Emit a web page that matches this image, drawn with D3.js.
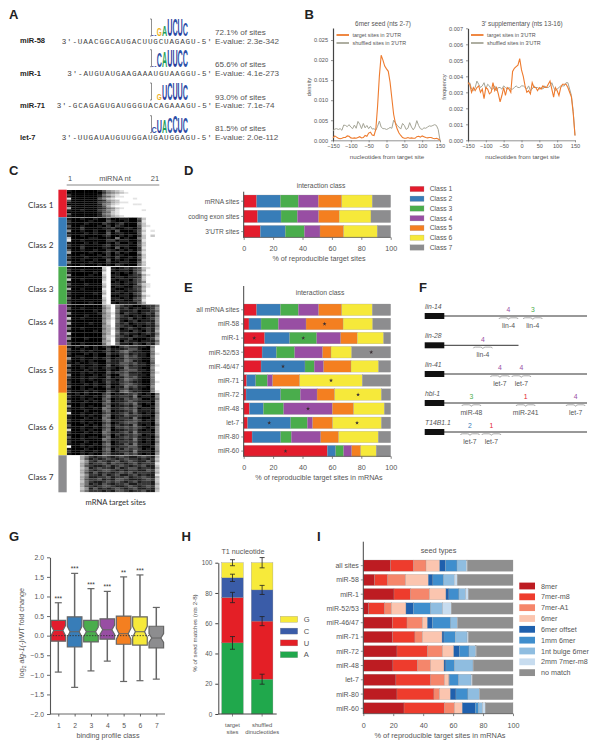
<!DOCTYPE html>
<html>
<head>
<meta charset="utf-8">
<script src="https://cdnjs.cloudflare.com/ajax/libs/d3/7.8.5/d3.min.js"></script>
<style>
  html, body { margin: 0; padding: 0; background: #fff; }
  svg { display: block; }
  text { font-family: "Liberation Sans", Arial, sans-serif; fill: #555; }
  .axis text { fill: #555; }
</style>
</head>
<body>
<div id="fig"></div>
<script>
// panel A
const aNames = ["miR-58", "miR-1", "miR-71", "let-7"];
const aSeqs = [
  "3\u2032-UAACGGCAUGACUUGCUAGAGU-5\u2032",
  "3\u2032-AUGUAUGAAGAAAUGUAAGGU-5\u2032",
  "3\u2032-GCAGAGUGAUGGGUACAGAAAGU-5\u2032",
  "3\u2032-UUGAUAUGUUGGAUGAUGGAGU-5\u2032"
];
const aShare = ["72.1% of sites", "65.6% of sites", "93.0% of sites", "81.5% of sites"];
const aEval = ["E-value: 2.3e-342", "E-value: 4.1e-273", "E-value: 7.1e-74", "E-value: 2.0e-112"];
const aLetters = ["UGAUCUC", "UCAUUCC", "GUCUUC", "CUACCUC"];
const aHeights = [
  [.08, .45, .62, 1, 1, 1, .8],
  [.1, .88, .95, 1, 1, 1, 1],
  [.4, .9, 1, 1, 1, .95],
  [.35, .75, .8, .95, 1, .95, .95]
];

// panel B, one value every 5 nt from -150 to 150
const bTicksY1 = [0, .005, .01, .015, .02, .025];
const bTicksY2 = [0, .001, .002, .003, .004, .005, .006, .007];
const seedTarget = [
  .0006,.0011,.0008,.0005,.0004,.0005,.0007,.0007,.0011,.0010,
  .0006,.0005,.0006,.0005,.0007,.0009,.0006,.0007,.0012,.0010,
  .0018,.0020,.0013,.0012,.0027,.0085,.0160,.0212,.0200,.0185,
  .0178,.0172,.0145,.0105,.0065,.0042,.0028,.0018,.0012,.0007,
  .0005,.0005,.0007,.0005,.0006,.0005,.0005,.0009,.0010,.0008,
  .0011,.0009,.0007,.0006,.0007,.0007,.0005,.0004,.0005,.0003,
  .0000];
const seedShuffled = [
  .0024,.0028,.0029,.0027,.0029,.0025,.0038,.0037,.0034,.0039,
  .0033,.0029,.0038,.0030,.0047,.0040,.0029,.0042,.0031,.0037,
  .0029,.0035,.0028,.0029,.0025,.0035,.0048,.0033,.0029,.0029,
  .0027,.0029,.0032,.0030,.0050,.0044,.0037,.0033,.0028,.0042,
  .0037,.0027,.0030,.0044,.0033,.0026,.0033,.0049,.0037,.0029,
  .0027,.0031,.0030,.0033,.0036,.0035,.0037,.0039,.0037,.0027,
  .0000];
const suppTarget = [
  .0036,.0035,.0030,.0033,.0031,.0033,.0034,.0030,.0032,.0026,
  .0033,.0032,.0029,.0030,.0036,.0031,.0033,.0029,.0024,.0028,
  .0033,.0028,.0033,.0032,.0030,.0043,.0045,.0046,.0047,.0051,
  .0044,.0040,.0034,.0030,.0031,.0029,.0036,.0033,.0033,.0031,
  .0033,.0032,.0034,.0033,.0033,.0035,.0037,.0032,.0027,.0033,
  .0031,.0028,.0033,.0035,.0035,.0035,.0033,.0030,.0027,.0017,
  .0003];
const suppShuffled = [
  .0035,.0036,.0032,.0031,.0033,.0037,.0035,.0033,.0034,.0036,
  .0032,.0035,.0034,.0032,.0032,.0034,.0031,.0033,.0033,.0032,
  .0034,.0033,.0032,.0033,.0032,.0032,.0033,.0034,.0033,.0033,
  .0034,.0034,.0033,.0032,.0034,.0031,.0032,.0034,.0033,.0033,
  .0032,.0033,.0032,.0034,.0033,.0033,.0034,.0036,.0033,.0031,
  .0032,.0033,.0034,.0034,.0034,.0036,.0036,.0032,.0028,.0018,
  .0003];

// panel C, one string per row of sites, a digit per nucleotide (0 black, 9 white)
const class1Rows = [
  "100000013567899999999","000000002456789999999","200000014678999999999",
  "100000013468899999999","800000035789999899999","300000012567999999999",
  "100000023467889999999","000000014578999889999","200000013689999999999",
  "600000012457899999999","100100023568999998999","000000013478999999999",
  "300000014578999999999","100000013467899999999"];
const class2Rows = [
  "100100100200110037999","200001000310010028999","100010002101200047999",
  "300100010202100037899","100200001120011028999","500100100203000137989",
  "100010100301100038999","200100001200101027979","700001100104010047999",
  "800100000220110028999","100010100102001037999","200100001201110037999",
  "100200001103010028999","300100100210101027999","600001001202010048999",
  "100100010201100027999","200010001102001037999","100100100301010028999",
  "400001000200110037999","100100010102100047999"];
const class3Rows = [
  "100000007910121237899","200100006910110236999","100000108901010248999",
  "500001007911001226899","100000006901101127999","700100007910110237999",
  "100000008901011235999","300010007911010147899","100000006901100226899",
  "600100008910011237999","100000007901101126999","200000106911010238999",
  "100000008900110126899","300100007911010237999","100000006901100228999",
  "200001007910111136999"];
const class4Rows = [
  "100000005794211001224","300100004693120110125","100000105794111201124",
  "500000014683021101215","100010005694210110114","700100004683112010125",
  "200000005794101201115","600001004793120111215","100000005693211010114",
  "400100004683012101215","100000105694110210216","700000004694121101214",
  "200000005783210211015","500010004793112000126","100000005693021101114",
  "300100004794110210215"];
const class5Rows = [
  "101010101200232211049","300100100311123310059","100101001201342110049",
  "200010100311231211048","101100100200242311059","500100101201132210049",
  "200101000311243110049","101001100211332311039","400100100301231211048",
  "100101101210142210059","300010100200233311049","100101000312231110048",
  "500100101200342211059","200101100301132310049","100101001210243210049",
  "200100101311232110048","100010100200233210049","300100101301142311059",
  "100101000211231210049","200010100310342110048"];
const class6Rows = [
  "101010002301122310104","200100102411221401105","100101003301132320014",
  "300010102401123211105","100100003311232410105","500101002401121320015",
  "100100104311232301105","200010003401122411115","800100102311231310104",
  "100101003401132221105","100010104301221410015","200100003411122320105",
  "100101002301233311105","300010103412121410104","100100102302232321015",
  "700101003401122310105","200010104311231411105","100100003302122320115",
  "300101102401232311104","100100004311121410105","200010002301222310104",
  "100100103401131411105","900101002311223310015","100010003402132320105",
  "200100102301221411104","100101003311132310105"];
const class7Rows = [
  "999642123212321123216","999631212321232212127","999752132123123211316",
  "999641223132212312228","999632112312321223117","999751232213123312216",
  "999642123321212211327","999631312212323122216","999752213123112312118",
  "999641122312231223216","999632231213321112327","999742112323212312217",
  "999641213212231122216","999632123321123212327","999751312123212311216",
  "999642221213321223117"];

// panel D and E, shares of classes 1-7 in %
const classNames = ["Class 1", "Class 2", "Class 3", "Class 4", "Class 5", "Class 6", "Class 7"];
const dCats = ["mRNA sites", "coding exon sites", "3\u2032UTR sites"];
const dMrna = [8.8, 16.2, 12.2, 13.6, 15.9, 20.8, 12.5];
const dCoding = [9.5, 15.9, 11.1, 14.5, 14, 21.6, 13.4];
const dUtr = [11.3, 17, 13, 10.6, 16.1, 22.9, 9.1];

const eCats = ["all mRNA sites", "miR-58", "miR-1", "miR-52/53", "miR-46/47", "miR-71", "miR-72", "miR-48", "let-7", "miR-80", "miR-60"];
const eAll = [8.8, 16.2, 12.2, 13.8, 15.7, 20.8, 12.5];
const e58 = [3.6, 8.2, 11.8, 18.8, 25.2, 20.2, 12.2];
const e1 = [14.3, 17, 18.4, 16.3, 11.3, 17.9, 4.8];
const e52 = [12.5, 9.7, 12.5, 19, 5.7, 14.1, 26.5];
const e46 = [11.8, 29.9, 6.3, 6.4, 18.6, 18.8, 8.2];
const e71 = [2, 6.2, 7.9, 3.6, 18.4, 42.6, 19.3];
const e72 = [1.6, 23.6, 13.3, 11.4, 12, 31.8, 6.3];
const e48 = [3.9, 9.5, 13.8, 33.1, 14.5, 20.9, 4.3];
const eLet7 = [2.7, 29.3, 11.3, 3.6, 13.6, 33.2, 6.3];
const e80 = [5.7, 19.5, 7.2, 20, 12.2, 27, 8.4];
const e60 = [56.9, 5.7, 5.4, 5.5, 6.1, 10.6, 9.8];
// [row, class index] of the enriched segments
const eStars = [[1, 4], [2, 0], [2, 2], [3, 6], [4, 1], [5, 5], [6, 5], [7, 3], [8, 1], [8, 5], [10, 0]];

// panel F, site positions in % of the 3'UTR line
const fGenes = ["lin-14", "lin-28", "lin-41", "hbl-1", "T14B1.1"];
const fLengths = [100, 52, 100, 100, 100];
const fPos = [[45, 62], [27], [39, 54], [19, 57, 92], [18, 33]];
const fClass = [[4, 3], [4], [4, 4], [3, 1, 4], [2, 1]];
const fSites = [["lin-4", "lin-4"], ["lin-4"], ["let-7", "let-7"], ["miR-48", "miR-241", "let-7"], ["let-7", "let-7"]];

// panel G
const gCats = ["1", "2", "3", "4", "5", "6", "7"];
const gHi = [.84, 1.59, 1.2, 1.13, 1.5, 1.55, .72];
const gQ3 = [.39, .48, .39, .43, .5, .48, .24];
const gMed = [.13, .1, .1, .15, .05, .1, -.06];
const gQ1 = [-.14, -.29, -.16, -.09, -.22, -.24, -.31];
const gLo = [-.93, -1.32, -.9, -.65, -1.17, -1.15, -1.11];
const gNotch = [.13, .14, .12, .12, .14, .14, .11];
const gStars = ["***", "***", "***", "***", "**", "***", ""];

// panel H
const hCats = [["target", "sites"], ["shuffled", "dinucleotides"]];
const hNt = ["A", "U", "C", "G"];
const hTarget = [47, 30, 13, 10];
const hShuffled = [23, 38.4, 20.6, 18];
const hErrTarget = [4.2, 3.4, 2.4, 2];
const hErrShuffled = [3.3, 3, 3, 3.4];

// panel I
const iCats = ["all sites", "miR-58", "miR-1", "miR-52/53", "miR-46/47", "miR-71", "miR-72", "miR-48", "let-7", "miR-80", "miR-60"];
const iTypes = ["8mer", "7mer-m8", "7mer-A1", "6mer", "6mer offset", "1mm 6mer", "1nt bulge 6mer", "2mm 7mer-m8", "no match"];
const iAll = [18.3, 15.3, 8.3, 9.1, 3.8, 7.8, 6.2, .7, 30.5];
const i58 = [7.6, 8.7, 12, 15.1, 3.1, 7.2, 7.1, 2, 37.2];
const i1 = [20.5, 11.1, 12.7, 10.9, 2, 6.7, 4.5, 1.8, 29.8];
const i52 = [3.6, 10.7, 4.6, 9.6, 4.9, 11.6, 8, 5.8, 41.2];
const i46 = [19.4, 9.8, 10.4, 3.2, 3.3, 12.3, 4.4, .2, 37];
const i71 = [19.6, 14.9, 5.1, 13, 1.3, 7.6, 7.8, .9, 29.8];
const i72 = [22.5, 20.5, 10, 7.4, 3.7, 6.5, 4.5, .4, 24.5];
const i48 = [19.8, 16.5, 8.7, 8.9, 1.3, 5.8, 12.3, .2, 26.5];
const iLet7 = [21.8, 23.2, 9.3, 2.9, .5, 6, 8.3, .8, 27.2];
const i80 = [22.5, 24.7, 3.8, 7.1, 3.8, 8, 7.6, .2, 22.3];
const i60 = [27.2, 27.1, 6.7, 5.1, 8.7, 2.2, 2.7, 1.8, 18.5];

const classColors = ["#e31c2d", "#387db8", "#4aad4c", "#984ea3", "#f47f20", "#f6e93a", "#8d8d8f"];
const seedColors = ["#bd1c22", "#ee3c2d", "#f5866b", "#fbc5af", "#1f60ad", "#3f8ecd", "#8fbde0", "#c7dcef", "#8f8f8f"];
const ntColors = { A: "#20a84c", U: "#e41f26", C: "#3a5ca8", G: "#f7ea3a" };
const logoColors = { A: "#1f9e5a", U: "#2c3c9c", C: "#2c4fa8", G: "#efb01f" };
const boxDark = "#666";

const svg = d3.select("#fig").append("svg").attr("width", 602).attr("height", 749);

function label(x, y, str, size, anchor) {
  return svg.append("text").attr("x", x).attr("y", y).attr("font-size", size)
    .attr("text-anchor", anchor || "middle").attr("dy", "0.35em").text(str);
}

function styleAxis(g, size, lineW, col) {
  g.attr("class", "axis");
  g.selectAll("text").attr("font-size", size);
  g.selectAll("path,line").attr("stroke", col || "#555").attr("stroke-width", lineW || 1);
}

// panel letters
[["A", 9, 18.5], ["B", 304.5, 18.5], ["C", 9, 175], ["D", 184, 175], ["E", 184, 292],
 ["F", 419, 292], ["G", 9, 541], ["H", 181.5, 541], ["I", 317, 541]].forEach(d => {
  svg.append("text").attr("x", d[1]).attr("y", d[2]).attr("font-size", 13)
    .attr("font-weight", "bold").style("fill", "#222").text(d[0]);
});

// A
const aY = [40.7, 73, 105.3, 137];
const aPctY = [31.7, 63.7, 97, 128.3];
const aLogoBase = [36, 66.7, 100, 132.7];
const aSeqX = [61.7, 67.3, 56.7, 61.7];
const logoTop = 17;
aNames.forEach((name, i) => {
  label(20, aY[i], name, 7.5, "start").attr("font-weight", "bold").style("fill", "#222");
  svg.append("text").attr("x", aSeqX[i]).attr("y", aY[i] + .5).attr("dy", "0.35em")
    .attr("font-size", 7.6).attr("letter-spacing", 0.83)
    .style("font-family", "'Liberation Mono', monospace").style("fill", "#444").text(aSeqs[i]);
  label(215, aPctY[i], aShare[i], 8.1, "start");
  label(215, aY[i], aEval[i], 8.1, "start");

  // sequence logo
  const letters = aLetters[i].split("");
  const lx = d3.scaleBand().domain(d3.range(letters.length)).range([188 - letters.length * 5.2, 188]);
  const ly = d3.scaleLinear().domain([0, 1]).range([aLogoBase[i], aLogoBase[i] - logoTop]);
  svg.append("path").attr("fill", "none").attr("stroke", "#444").attr("stroke-width", .6)
    .attr("d", `M150,${ly(1)}h1.5V${ly(0)}h-1.5`);
  svg.append("g").selectAll("text").data(letters).join("text")
    .attr("font-size", 10).attr("font-weight", "bold")
    .style("fill", d => logoColors[d]).text(d => d)
    .attr("transform", function(d, j) {
      const w = this.getBBox().width;
      const sy = (ly(0) - ly(aHeights[i][j])) / 7.2;
      return `translate(${lx(j)},${ly(0)}) scale(${lx.bandwidth() / w},${sy})`;
    });
});

// B
function densityPanel(x0, x1, top, yMax, yTicks, target, shuffled, title, yName, yNameX, titleX, xNameX, legendX) {
  const pos = d3.range(-150, 151, 5);
  const x = d3.scaleLinear().domain([-150, 150]).range([x0, x1]);
  const y = d3.scaleLinear().domain([0, yMax]).range([140.3, top]);
  const line = d3.line().x((d, i) => x(pos[i])).y(d => y(d));
  const gx = svg.append("g").attr("transform", "translate(0,140.3)")
    .call(d3.axisBottom(x).tickValues(d3.range(-150, 151, 50)).tickSize(2).tickSizeOuter(0));
  styleAxis(gx, 5.6, .8, "#777");
  gx.selectAll("text").attr("dy", "0.55em");
  const gy = svg.append("g").attr("transform", `translate(${x0},0)`)
    .call(d3.axisLeft(y).tickValues(yTicks).tickFormat(d3.format(".3f")).tickSize(2).tickSizeOuter(0));
  styleAxis(gy, 5.6, .8, "#777");
  gy.select(".domain").attr("stroke", "#444").attr("stroke-width", 1.2);
  svg.append("path").datum(shuffled).attr("fill", "none").attr("stroke", "#a5a597").attr("stroke-width", 1).attr("d", line);
  svg.append("path").datum(target).attr("fill", "none").attr("stroke", "#ee7b2e").attr("stroke-width", 1.1).attr("d", line);
  label(titleX, 24, title, 6.4);
  label(xNameX, 156.7, "nucleotides from target site", 6.2);
  label(yNameX, 87, yName, 5.8).attr("transform", `rotate(-90,${yNameX},87)`);
  [["target sites in 3\u2032UTR", "#ee7b2e", 35], ["shuffled sites in 3\u2032UTR", "#a5a597", 43]].forEach(d => {
    svg.append("line").attr("x1", legendX).attr("x2", legendX + 12.5).attr("y1", d[2]).attr("y2", d[2])
      .attr("stroke", d[1]).attr("stroke-width", 1.8);
    label(legendX + 16, d[2], d[0], 5.4, "start");
  });
}
densityPanel(333, 440, 28, .028, bTicksY1, seedTarget, seedShuffled, "6mer seed (nts 2-7)", "density", 309, 383, 387, 336.5);
densityPanel(468, 575, 28.3, .007, bTicksY2, suppTarget, suppShuffled, "3\u2032 supplementary (nts 13-16)", "frequency", 444, 522, 522.5, 471);

// C
const cBlocks = [class1Rows, class2Rows, class3Rows, class4Rows, class5Rows, class6Rows, class7Rows];
const cTops = [190, 217.6, 267, 304.6, 345.6, 393, 455.6];
const cBottoms = [217, 266, 304, 345, 392.6, 455, 492];
const cLabelY = [204.7, 244.7, 288.7, 322.3, 370.3, 427, 477];
const cGrey = d3.scaleLinear().domain([0, 9]).range(["#000", "#fff"]);
const cx = d3.scaleBand().domain(d3.range(21)).range([66.7, 159.3]);
const defs = svg.append("defs");
defs.append("filter").attr("id", "soft").append("feGaussianBlur").attr("stdDeviation", "0.5 0.4");
const heat = svg.append("g").attr("filter", "url(#soft)");
cBlocks.forEach((rows, c) => {
  const cy = d3.scaleBand().domain(d3.range(rows.length)).range([cTops[c], cBottoms[c]]);
  rows.forEach((row, r) => {
    heat.append("g").selectAll("rect").data(row.split("").map(Number)).join("rect")
      .attr("x", (d, j) => cx(j)).attr("y", cy(r))
      .attr("width", cx.bandwidth() + .2).attr("height", cy.bandwidth() + .1)
      .attr("fill", d => cGrey(d));
  });
  svg.append("rect").attr("x", 58.4).attr("y", cTops[c] - .3).attr("width", 8.3)
    .attr("height", cBottoms[c] - cTops[c] + .6).attr("fill", classColors[c]);
  label(28, cLabelY[c], classNames[c], 8.2, "start").style("font-family", "Lato, sans-serif").style("fill", "#333");
});
label(70, 178, "1", 7.5);
label(115, 178, "miRNA nt", 7.5);
label(155, 178, "21", 7.5);
svg.append("line").attr("x1", 66.7).attr("x2", 159.3).attr("y1", 185).attr("y2", 185).attr("stroke", "#555").attr("stroke-width", .7);
label(115.7, 502.7, "mRNA target sites", 7.6).style("font-family", "Lato, sans-serif").style("fill", "#333");

// stacked horizontal bars used by D, E, I
function hBars(cats, rows, colors, x0, x1, yTop, step, barH, axisTop, axisY, tickY, catSize) {
  const x = d3.scaleLinear().domain([0, 100]).range([x0, x1]);
  const y = d3.scaleBand().domain(cats).range([yTop, yTop + step * cats.length]);
  const g = svg.append("g");
  rows.forEach((row, r) => {
    const ends = d3.cumsum(row);
    g.append("g").selectAll("rect").data(row).join("rect")
      .attr("x", (d, j) => x(ends[j] - d))
      .attr("y", y(cats[r]))
      .attr("width", d => x(d) - x(0))
      .attr("height", barH)
      .attr("fill", (d, j) => colors[j])
      .attr("stroke", "#9a9a9a").attr("stroke-width", .25);
  });
  const gx = svg.append("g").attr("transform", `translate(0,${axisY})`)
    .call(d3.axisBottom(x).tickValues(d3.range(0, 101, 20)).tickSize(2.5).tickSizeOuter(0));
  styleAxis(gx, 7.2, .8, "#666");
  gx.selectAll("text").attr("y", tickY - axisY).attr("dy", "0.35em");
  gx.select(".domain").attr("d", `M${x0},0H${x1}`);
  svg.append("line").attr("x1", x0).attr("x2", x0).attr("y1", axisTop).attr("y2", axisY + .4).attr("stroke", "#444").attr("stroke-width", 1);
  const tickG = svg.append("g");
  cats.forEach(c => {
    const m = y(c) + barH / 2;
    tickG.append("line").attr("x1", x0 - 2.5).attr("x2", x0).attr("y1", m).attr("y2", m).attr("stroke", "#666").attr("stroke-width", .7);
    label(x0 - 4.5, m, c, catSize, "end");
  });
  return { x, y };
}

// D
hBars(dCats, [dMrna, dCoding, dUtr], classColors, 243.7, 390.7, 195, 15.2, 12.4, 191.7, 237.4, 248, 6.6);
label(321, 185.7, "interaction class", 6.8);
label(319, 258.8, "% of reproducible target sites", 7.2);
classNames.forEach((name, i) => {
  const ly = 189 + i * 9.75;
  svg.append("rect").attr("x", 410).attr("y", ly - 2.7).attr("width", 14).attr("height", 5.4)
    .attr("fill", classColors[i]).attr("stroke", "#999").attr("stroke-width", .25);
  label(429.7, ly, name, 6.8, "start");
});

// E
const eRows = [eAll, e58, e1, e52, e46, e71, e72, e48, eLet7, e80, e60];
const eScales = hBars(eCats, eRows, classColors, 243.7, 390.7, 304, 14.13, 11.6, 286, 456.3, 467, 6.6);
svg.append("g").selectAll("path").data(eStars).join("path")
  .attr("d", d3.symbol().type(d3.symbolStar).size(5))
  .attr("fill", "#3a2f33")
  .attr("transform", d => {
    const row = eRows[d[0]];
    const end = d3.sum(row.slice(0, d[1] + 1));
    return `translate(${eScales.x(end - row[d[1]] / 2)},${eScales.y(eCats[d[0]]) + 5.8})`;
  });
label(320, 293, "interaction class", 6.8);
label(319, 477.8, "% of reproducible target sites in mRNAs", 7.2);

// F
const fY = [316, 345.3, 374, 403, 432];
const fx = d3.scaleLinear().domain([0, 100]).range([444.3, 587]);
fGenes.forEach((gene, i) => {
  const y = fY[i];
  svg.append("line").attr("x1", 444).attr("x2", fx(fLengths[i])).attr("y1", y).attr("y2", y).attr("stroke", "#333").attr("stroke-width", 1);
  svg.append("rect").attr("x", 424.7).attr("y", y - 3).attr("width", 19.6).attr("height", 6).attr("fill", "#111");
  label(425, y - 9.5, gene, 6.8, "start").attr("font-style", "italic");
  fPos[i].forEach((p, j) => {
    const sx = fx(p), cl = fClass[i][j];
    label(sx, y - 6, String(cl), 6.8).style("fill", classColors[cl - 1]);
    svg.append("path").attr("fill", "none").attr("stroke", "#888").attr("stroke-width", .7)
      .attr("d", `M${sx - 9.5},${y + 3}q0,-1.2 2,-1.2h5q2,0 2.5,1.6q.5,-1.6 2.5,-1.6h5q2,0 2,1.2`);
    label(sx, y + 9.3, fSites[i][j], 6.8);
  });
});

// G
const gx = d3.scalePoint().domain(gCats).range([58.3, 156.3]);
const gy = d3.scaleLinear().domain([-2, 2]).range([714, 557.3]);
const gxAxis = svg.append("g").attr("transform", "translate(0,714)")
  .call(d3.axisBottom(gx).tickSize(2.5).tickSizeOuter(0));
styleAxis(gxAxis, 6.8, .9, "#555");
gxAxis.selectAll("text").attr("y", 11.7).attr("dy", "0.35em");
gxAxis.select(".domain").attr("d", "M50,0H165");
const gyAxis = svg.append("g").attr("transform", "translate(50,0)")
  .call(d3.axisLeft(gy).tickValues(d3.range(-2, 2.01, .5)).tickFormat(d3.format(".1f")).tickSize(3).tickSizeOuter(0));
styleAxis(gyAxis, 6.8, .9, "#555");
gyAxis.select(".domain").attr("stroke-width", 1.1);
const boxLine = d3.line();
gCats.forEach((cat, i) => {
  const cxp = gx(cat), hw = 7.3, nw = 4.6;
  svg.append("line").attr("x1", cxp).attr("x2", cxp).attr("y1", gy(gHi[i])).attr("y2", gy(gLo[i]))
    .attr("stroke", boxDark).attr("stroke-width", 1.5);
  [gHi[i], gLo[i]].forEach(v => {
    svg.append("line").attr("x1", cxp - 3.5).attr("x2", cxp + 3.5).attr("y1", gy(v)).attr("y2", gy(v))
      .attr("stroke", boxDark).attr("stroke-width", 1.2);
  });
  const up = gMed[i] + gNotch[i], dn = gMed[i] - gNotch[i];
  svg.append("path").attr("fill", classColors[i]).attr("stroke", boxDark).attr("stroke-width", 1.2)
    .attr("d", boxLine([
      [cxp - hw, gy(gQ3[i])], [cxp + hw, gy(gQ3[i])], [cxp + hw, gy(up)], [cxp + nw, gy(gMed[i])], [cxp + hw, gy(dn)],
      [cxp + hw, gy(gQ1[i])], [cxp - hw, gy(gQ1[i])], [cxp - hw, gy(dn)], [cxp - nw, gy(gMed[i])], [cxp - hw, gy(up)]
    ]) + "Z");
  svg.append("line").attr("x1", cxp - nw).attr("x2", cxp + nw).attr("y1", gy(gMed[i])).attr("y2", gy(gMed[i]))
    .attr("stroke", boxDark).attr("stroke-width", 1);
  label(cxp, gy(gHi[i]) - 6, gStars[i], 6.5).attr("dy", "0.6em").style("fill", "#333");
});
svg.append("line").attr("x1", 50).attr("x2", 150).attr("y1", gy(0)).attr("y2", gy(0))
  .attr("stroke", "#333").attr("stroke-width", .9).attr("stroke-dasharray", "1.4,1.4");
label(108, 735, "binding profile class", 7.2);
const gTitle = svg.append("text").attr("font-size", 7.2).attr("text-anchor", "middle")
  .attr("transform", "translate(21.7,633) rotate(-90)").attr("dy", "0.35em");
gTitle.append("tspan").text("log");
gTitle.append("tspan").attr("font-size", 5).attr("dy", 1.5).text("2");
gTitle.append("tspan").attr("dy", -1.5).text(" ");
gTitle.append("tspan").attr("font-style", "italic").text("alg-1(-)");
gTitle.append("tspan").text("/WT fold change");

// H
const hx = d3.scaleBand().domain([0, 1]).range([219.3, 275.3]).paddingInner(.27).paddingOuter(.08);
const hy = d3.scaleLinear().domain([0, 100]).range([714, 562.7]);
[hTarget, hShuffled].forEach((col, i) => {
  const ends = d3.cumsum(col);
  const errs = i ? hErrShuffled : hErrTarget;
  col.forEach((v, j) => {
    svg.append("rect").attr("x", hx(i)).attr("y", hy(ends[j])).attr("width", hx.bandwidth())
      .attr("height", hy(ends[j] - v) - hy(ends[j])).attr("fill", ntColors[hNt[j]])
      .attr("stroke", "#888").attr("stroke-width", .3);
  });
  col.forEach((v, j) => {
    const mx = hx(i) + hx.bandwidth() / 2;
    const a = hy(ends[j] - errs[j]), b = hy(ends[j] + errs[j]);
    svg.append("path").attr("fill", "none").attr("stroke", "#222").attr("stroke-width", .8)
      .attr("d", `M${mx},${a}V${b}M${mx - 2.5},${a}h5M${mx - 2.5},${b}h5`);
  });
  hCats[i].forEach((t, k) => label(hx(i) + hx.bandwidth() / 2, 725 + k * 7.3, t, 5.8));
  svg.append("line").attr("x1", hx(i) + hx.bandwidth() / 2).attr("x2", hx(i) + hx.bandwidth() / 2)
    .attr("y1", 714).attr("y2", 716.5).attr("stroke", "#555").attr("stroke-width", .7);
});
const hAxis = svg.append("g").attr("transform", "translate(218.3,0)")
  .call(d3.axisLeft(hy).tickValues(d3.range(0, 101, 20)).tickSize(3).tickSizeOuter(0));
styleAxis(hAxis, 6.4, 1, "#444");
svg.append("line").attr("x1", 218.3).attr("x2", 276.7).attr("y1", 714).attr("y2", 714).attr("stroke", "#444").attr("stroke-width", 1);
label(243, 551, "T1 nucleotide", 7.2);
label(195, 633, "% of seed matches (nts 2-8)", 6.2).attr("transform", "rotate(-90,195,633)");
["G", "C", "U", "A"].forEach((nt, i) => {
  const ly = 619.3 + i * 11.8;
  svg.append("rect").attr("x", 280.3).attr("y", ly - 3).attr("width", 17.4).attr("height", 6)
    .attr("fill", ntColors[nt]).attr("stroke", "#888").attr("stroke-width", .3);
  label(303.7, ly, nt, 7.6, "start");
});

// I
hBars(iCats, [iAll, i58, i1, i52, i46, i71, i72, i48, iLet7, i80, i60], seedColors, 363.3, 513, 560, 14.27, 11.3, 541.7, 713.6, 725, 7);
label(438.5, 550.7, "seed types", 7.4);
label(440, 735.7, "% of reproducible target sites in mRNAs", 7.4);
iTypes.forEach((name, i) => {
  const ly = 586 + i * 10.83;
  svg.append("rect").attr("x", 519.3).attr("y", ly - 3.4).attr("width", 15.7).attr("height", 6.8)
    .attr("fill", seedColors[i]);
  label(541, ly, name, 7.2, "start");
});
</script>
</body>
</html>
